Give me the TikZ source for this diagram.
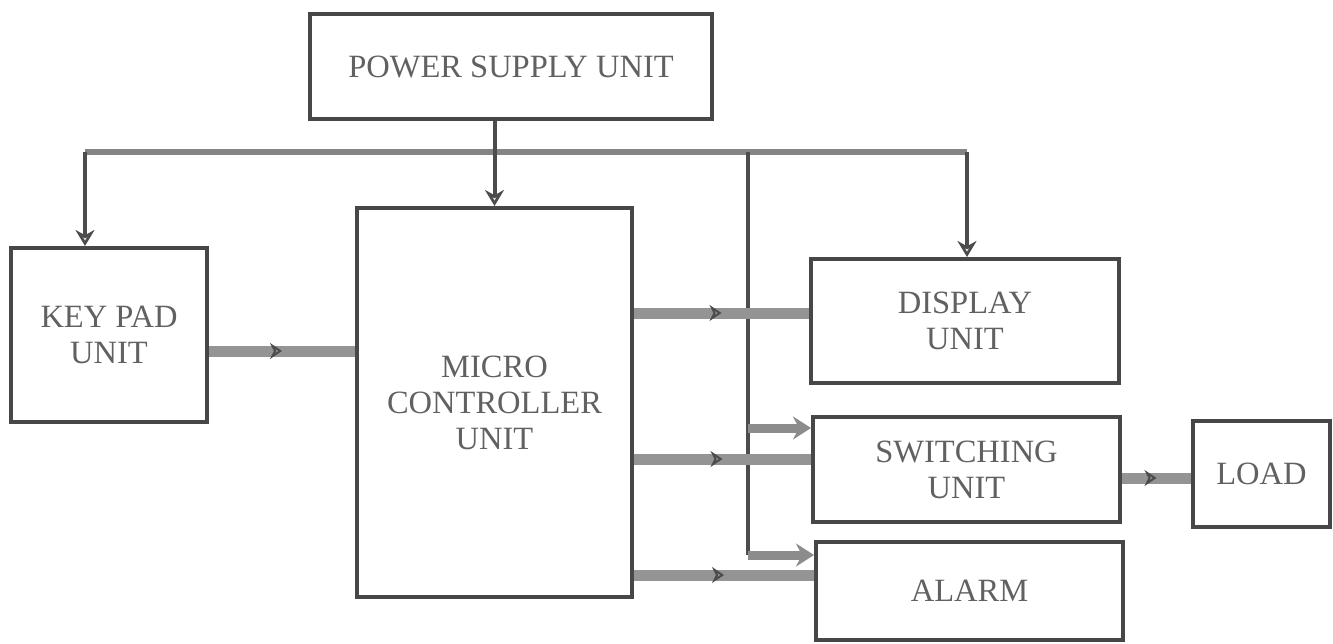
\documentclass[tikz,border=0pt]{standalone}
\usepackage{fontspec}
\setmainfont{Liberation Serif}
\usepackage{tikz}
\usetikzlibrary{arrows.meta, decorations.markings}

\begin{document}
\begin{tikzpicture}[
      x = 0.2mm, y = -0.2mm,
      unit/.style  = {draw = black!72, line width = .8mm, align = center,
                      text = black!62, inner sep = 0pt,
                      font = \fontsize{18.5}{20.5}\selectfont},
      bus/.style   = {draw = black!48, line width = 1.3mm},
      feed/.style  = {draw = black!70, line width = .8mm,
                      -{Stealth[length = 3.2mm, width = 3.8mm, open, line width = .7mm]}},
      tapx/.style  = {draw = black!45, line width = 1.8mm,
                      -{Stealth[length = 3.6mm, width = 4.6mm, line width = .5mm]}},
      link/.style  = {draw = black!42, line width = 2.2mm,
                      postaction = {decorate},
                      decoration = {markings, mark = at position .5 with
                          {\arrow[black!70, line width = .4mm]{Stealth[length = 2.4mm, width = 3.2mm, open]}}}}
    ]

  \useasboundingbox (0,0) rectangle (1333,643);

  % blocks ----------------------------------------------------------------
  \node[unit, minimum width = 80.4mm, minimum height = 21mm] (psu) at (511,66.5)
        {POWER SUPPLY UNIT};
  \node[unit, minimum width = 39.2mm, minimum height = 34.8mm] (kp) at (109,335)
        {KEY PAD\\UNIT};
  \node[unit, minimum width = 55mm, minimum height = 77.8mm] (mcu) at (494.5,402.5)
        {MICRO\\CONTROLLER\\UNIT};
  \node[unit, minimum width = 61.6mm, minimum height = 24.8mm] (disp) at (965,321)
        {DISPLAY\\UNIT};
  \node[unit, minimum width = 61.4mm, minimum height = 21mm] (sw) at (966.5,469.5)
        {SWITCHING\\UNIT};
  \node[unit, minimum width = 27.4mm, minimum height = 21.2mm] (load) at (1261.5,474)
        {LOAD};
  \node[unit, minimum width = 61.4mm, minimum height = 19.6mm] (al) at (969.5,591)
        {ALARM};

  % supply bus -------------------------------------------------------------
  \coordinate (busl) at (85,152);
  \coordinate (busr) at (967,152);
  \coordinate (tap)  at (748,152);
  \coordinate (swtap) at (748,428);
  \coordinate (altap) at (748,555);

  \draw[bus] (busl) -- (busr);
  \draw[feed] (mcu.north |- psu.south) -- (mcu.north);
  \draw[feed] (busl) -- (busl |- kp.north);
  \draw[feed] (busr) -- (busr |- disp.north);
  \draw[draw = black!70, line width = .8mm] (tap) -- (altap);
  \draw[tapx] (swtap) -- (swtap -| sw.west);
  \draw[tapx] (altap) -- (altap -| al.west);

  % signal links -------------------------------------------------------------
  \draw[link] ([yshift = -3.2mm]kp.east) -- ([yshift = -3.2mm]kp.east -| mcu.west);
  \draw[link] ([yshift = 1.6mm]disp.west -| mcu.east) -- ([yshift = 1.6mm]disp.west);
  \draw[link] ([yshift = 2.1mm]sw.west -| mcu.east) -- ([yshift = 2.1mm]sw.west);
  \draw[link] ([yshift = 3.2mm]al.west -| mcu.east) -- ([yshift = 3.2mm]al.west);
  \draw[link] ([yshift = -1.7mm]sw.east) -- ([yshift = -1.7mm]sw.east -| load.west);

  \end{tikzpicture}
\end{document}
